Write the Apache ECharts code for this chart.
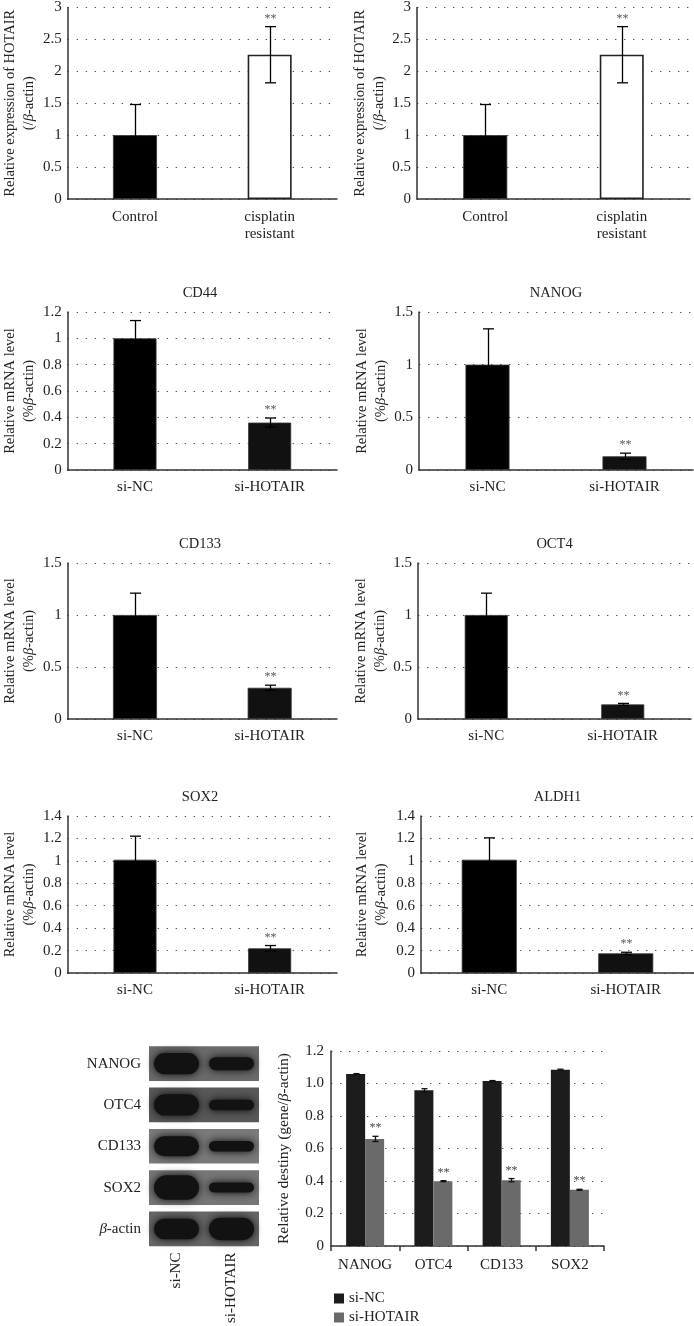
<!DOCTYPE html>
<html><head><meta charset="utf-8">
<script src="https://cdn.jsdelivr.net/npm/echarts@6/dist/echarts.min.js"></script>
<style>html,body{margin:0;padding:0;background:#fff}#c{width:694px;height:1326px}</style>
</head><body><div id="c"></div>
<script>
// ================= DATA =================
const hotairCategories = ['Control', 'cisplatin\nresistant'];
const hotairMeansA = [1.0, 2.26];
const hotairErrA = [0.48, 0.44];
const hotairMeansB = [1.0, 2.26];
const hotairErrB = [0.48, 0.44];
const hotairTicks = [0, 0.5, 1, 1.5, 2, 2.5, 3];

const mrnaCategories = ['si-NC', 'si-HOTAIR'];
const cd44Means = [1.0, 0.36];   const cd44Err = [0.135, 0.035];
const nanogMeans = [1.0, 0.13];  const nanogErr = [0.34, 0.03];
const cd133Means = [1.0, 0.30];  const cd133Err = [0.21, 0.025];
const oct4Means = [1.0, 0.14];   const oct4Err = [0.21, 0.01];
const sox2Means = [1.01, 0.22];  const sox2Err = [0.21, 0.025];
const aldh1Means = [1.01, 0.175]; const aldh1Err = [0.195, 0.01];
const ticks12 = [0, 0.2, 0.4, 0.6, 0.8, 1, 1.2];
const ticks15 = [0, 0.5, 1, 1.5];
const ticks14 = [0, 0.2, 0.4, 0.6, 0.8, 1, 1.2, 1.4];
const significant = [false, true];

const blotRows = ['NANOG', 'OTC4', 'CD133', 'SOX2', 'β-actin'];
const blotLanes = ['si-NC', 'si-HOTAIR'];
const blotIntensityNC = [0.85, 0.85, 0.8, 0.98, 0.82];
const blotIntensityHOTAIR = [0.52, 0.42, 0.42, 0.4, 0.9];

const densityCategories = ['NANOG', 'OTC4', 'CD133', 'SOX2'];
const densitySeriesNames = ['si-NC', 'si-HOTAIR'];
const densityNC = [1.058, 0.958, 1.015, 1.085];
const densityNCErr = [0.003, 0.01, 0.003, 0.003];
const densityHOTAIR = [0.659, 0.399, 0.405, 0.346];
const densityHOTAIRErr = [0.016, 0.003, 0.01, 0.003];
const densityTicks = [0, 0.2, 0.4, 0.6, 0.8, 1.0, 1.2];

// ================= STYLE / LAYOUT =================
const FONT = '"Liberation Serif", "DejaVu Serif", serif';
const TXT = '#222';
const AXIS = '#333';
const FS = 15;
const STRIP_COLORS = ['#6b6b6b', '#585858', '#7a7a7a', '#767676', '#676767'];

const hotairName = 'Relative expression of HOTAIR\n(/{i|β}-actin)';
const mrnaName = 'Relative mRNA level\n(%{i|β}-actin)';

const panels = [
  {cats: hotairCategories, means: hotairMeansA, errs: hotairErrA, ticks: hotairTicks, name: hotairName, title: null,
   grid: {left: 64, top: 4, width: 273, height: 195}, barW: 44, gap: 22, white: true, labelMargin: 10},
  {cats: hotairCategories, means: hotairMeansB, errs: hotairErrB, ticks: hotairTicks, name: hotairName, title: null,
   grid: {left: 417, top: 4, width: 273, height: 195}, barW: 44, gap: 27, white: true, labelMargin: 10},
  {cats: mrnaCategories, means: cd44Means, errs: cd44Err, ticks: ticks12, name: mrnaName, title: 'CD44',
   grid: {left: 63, top: 312, width: 274, height: 158}, barW: 43, gap: 20},
  {cats: mrnaCategories, means: nanogMeans, errs: nanogErr, ticks: ticks15, name: mrnaName, title: 'NANOG',
   grid: {left: 419, top: 312, width: 274, height: 158}, barW: 44, gap: 28},
  {cats: mrnaCategories, means: cd133Means, errs: cd133Err, ticks: ticks15, name: mrnaName, title: 'CD133',
   grid: {left: 63, top: 563, width: 274, height: 156}, barW: 44, gap: 20},
  {cats: mrnaCategories, means: oct4Means, errs: oct4Err, ticks: ticks15, name: mrnaName, title: 'OCT4',
   grid: {left: 418, top: 563, width: 273, height: 156}, barW: 43, gap: 28},
  {cats: mrnaCategories, means: sox2Means, errs: sox2Err, ticks: ticks14, name: mrnaName, title: 'SOX2',
   grid: {left: 63, top: 816, width: 274, height: 157}, barW: 43, gap: 27},
  {cats: mrnaCategories, means: aldh1Means, errs: aldh1Err, ticks: ticks14, name: mrnaName, title: 'ALDH1',
   grid: {left: 421, top: 816, width: 273, height: 157}, barW: 55, gap: 30}
];

function errRender(capW, offset, starColor, stroke) {
  return function (params, api) {
    const x = api.value(0), m = api.value(1), e = api.value(2), star = api.value(3);
    const top = api.coord([x, m + e]);
    const bot = api.coord([x, m - e]);
    const cx = Math.round(top[0] + offset) + 0.5;
    const st = {stroke: stroke, lineWidth: 1.3};
    const children = [
      {type: 'line', shape: {x1: cx, y1: top[1], x2: cx, y2: bot[1]}, style: st},
      {type: 'line', shape: {x1: cx - capW / 2, y1: top[1], x2: cx + capW / 2, y2: top[1]}, style: st},
      {type: 'line', shape: {x1: cx - capW / 2, y1: bot[1], x2: cx + capW / 2, y2: bot[1]}, style: st}
    ];
    if (star) {
      children.push({type: 'text', x: cx, y: top[1] - 2,
        style: {text: '**', align: 'center', verticalAlign: 'bottom', textAlign: 'center', textVerticalAlign: 'bottom',
          font: '12px ' + FONT, fill: starColor}});
    }
    return {type: 'group', children: children};
  };
}

const grids = [], xAxes = [], yAxes = [], series = [], graphics = [];
const dottedSplit = {show: true, lineStyle: {type: [1.4, 7.6], color: '#555', width: 1.2}};
function nameStyle(fs) {
  return {fontFamily: FONT, fontSize: fs, color: TXT, lineHeight: 19,
    rich: {i: {fontStyle: 'italic', fontFamily: FONT, fontSize: fs, color: TXT}}};
}

panels.forEach(function (p, idx) {
  grids.push(Object.assign({containLabel: false}, p.grid));
  xAxes.push({type: 'category', gridIndex: idx, data: p.cats, boundaryGap: true,
    axisLine: {show: true, lineStyle: {color: AXIS, width: 1.5}}, axisTick: {show: false},
    axisLabel: {interval: 0, fontFamily: FONT, fontSize: FS, color: TXT, margin: p.labelMargin || 9, lineHeight: 17}});
  const t = p.ticks;
  yAxes.push({type: 'value', gridIndex: idx, min: t[0], max: t[t.length - 1], interval: t[1] - t[0],
    axisLine: {show: true, lineStyle: {color: AXIS, width: 1.5}}, axisTick: {show: false},
    splitLine: dottedSplit,
    axisLabel: {fontFamily: FONT, fontSize: FS, color: TXT, margin: 6},
    name: p.name, nameLocation: 'middle', nameGap: p.gap, nameTextStyle: nameStyle(14.5)});
  series.push({type: 'bar', xAxisIndex: idx, yAxisIndex: idx, barWidth: p.barW,
    data: p.means.map(function (v, i) {
      const isWhite = p.white && i === 1;
      return {value: v, itemStyle: {color: isWhite ? '#fff' : (i === 0 ? '#000' : '#111'),
        borderColor: isWhite ? '#222' : '#333', borderWidth: isWhite ? 1.6 : 0.8}};
    })});
  series.push({type: 'custom', xAxisIndex: idx, yAxisIndex: idx, z: 5,
    encode: {x: 0, y: 1},
    renderItem: errRender(11, 0, '#555', '#000'),
    data: p.means.map(function (v, i) { return [i, v, p.errs[i], significant[i] ? 1 : 0]; })});
  if (p.title) {
    graphics.push({type: 'text', x: p.grid.left + p.grid.width / 2, y: p.grid.top - 19,
      style: {text: p.title, align: 'center', verticalAlign: 'middle', textAlign: 'center', textVerticalAlign: 'middle',
        font: '14.5px ' + FONT, fill: TXT}});
  }
});

// ---- Western blot (custom series on category scales) ----
const blotIdx = grids.length;
grids.push({left: 149, top: 1043, width: 110, height: 213});
xAxes.push({type: 'category', gridIndex: blotIdx, data: blotLanes, boundaryGap: true,
  axisLine: {show: false}, axisTick: {show: false}, splitLine: {show: false},
  axisLabel: {interval: 0, rotate: 90, fontFamily: FONT, fontSize: FS, color: TXT, margin: 3}});
yAxes.push({type: 'category', gridIndex: blotIdx, data: blotRows, inverse: true, boundaryGap: true,
  axisLine: {show: false}, axisTick: {show: false}, splitLine: {show: false},
  axisLabel: {interval: 0, fontFamily: FONT, fontSize: FS, color: TXT, margin: 8,
    formatter: function (v) { return v === 'β-actin' ? '{i|β}-actin' : v; },
    rich: {i: {fontStyle: 'italic', fontFamily: FONT, fontSize: FS, color: TXT}}}});
series.push({type: 'custom', xAxisIndex: blotIdx, yAxisIndex: blotIdx, encode: {x: 0, y: 1},
  data: blotRows.map(function (r, i) { return [0, i]; }),
  renderItem: function (params, api) {
    const row = api.value(1);
    const cs = params.coordSys;
    const cy = api.coord([0, row])[1];
    const h = api.size([0, 1])[1] * 0.84;
    return {type: 'rect', shape: {x: cs.x, y: cy - h / 2, width: cs.width, height: h},
      style: {fill: STRIP_COLORS[row]}};
  }});
const bandData = [];
blotRows.forEach(function (r, i) {
  bandData.push([0, i, blotIntensityNC[i]]);
  bandData.push([1, i, blotIntensityHOTAIR[i]]);
});
series.push({type: 'custom', xAxisIndex: blotIdx, yAxisIndex: blotIdx, encode: {x: 0, y: 1}, z: 3,
  data: bandData,
  renderItem: function (params, api) {
    const c = api.coord([api.value(0), api.value(1)]);
    const sz = api.size([1, 1]);
    const w = sz[0] * 0.82;
    const h = sz[1] * 0.84 * 0.72 * api.value(2);
    return {type: 'rect', shape: {x: c[0] - w / 2, y: c[1] - h / 2, width: w, height: h, r: h / 2},
      style: {fill: '#121212', shadowBlur: 9, shadowColor: 'rgba(8,8,8,1)'}};
  }});

// ---- Densitometry bar chart ----
const dIdx = grids.length;
grids.push({left: 331, top: 1051, width: 273, height: 195});
xAxes.push({type: 'category', gridIndex: dIdx, data: densityCategories, boundaryGap: true,
  axisLine: {show: true, lineStyle: {color: AXIS, width: 1.5}},
  axisTick: {show: true, interval: 0, length: 5, lineStyle: {color: AXIS, width: 1.5}},
  axisLabel: {interval: 0, fontFamily: FONT, fontSize: FS, color: TXT, margin: 12}});
yAxes.push({type: 'value', gridIndex: dIdx, min: densityTicks[0], max: densityTicks[densityTicks.length - 1],
  interval: densityTicks[1] - densityTicks[0],
  axisLine: {show: true, lineStyle: {color: AXIS, width: 1.5}}, axisTick: {show: false},
  splitLine: dottedSplit,
  axisLabel: {fontFamily: FONT, fontSize: FS, color: TXT, margin: 7,
    formatter: function (v) { return v === 0 ? '0' : v.toFixed(1); }},
  name: 'Relative destiny (gene/{i|β}-actin)', nameLocation: 'middle', nameGap: 38, nameTextStyle: nameStyle(15.5)});
const DCOL = ['#1c1c1c', '#6a6a6b'];
series.push({type: 'bar', name: densitySeriesNames[0], xAxisIndex: dIdx, yAxisIndex: dIdx, barWidth: 19, barGap: '0%',
  itemStyle: {color: DCOL[0]}, data: densityNC});
series.push({type: 'bar', name: densitySeriesNames[1], xAxisIndex: dIdx, yAxisIndex: dIdx, barWidth: 19, barGap: '0%',
  itemStyle: {color: DCOL[1]}, data: densityHOTAIR});
series.push({type: 'custom', xAxisIndex: dIdx, yAxisIndex: dIdx, z: 5, encode: {x: 0, y: 1},
  renderItem: errRender(6, -9.5, '#444', '#111'),
  data: densityNC.map(function (v, i) { return [i, v, densityNCErr[i], 0]; })});
series.push({type: 'custom', xAxisIndex: dIdx, yAxisIndex: dIdx, z: 5, encode: {x: 0, y: 1},
  renderItem: errRender(6, 9.5, '#444', '#111'),
  data: densityHOTAIR.map(function (v, i) { return [i, v, densityHOTAIRErr[i], 1]; })});

const chart = echarts.init(document.getElementById('c'), null, {renderer: 'canvas'});
chart.setOption({
  animation: false,
  backgroundColor: '#fff',
  textStyle: {fontFamily: FONT},
  grid: grids, xAxis: xAxes, yAxis: yAxes, series: series,
  legend: {data: densitySeriesNames, orient: 'vertical', left: 334, top: 1291, itemWidth: 10, itemHeight: 10,
    itemGap: 4, icon: 'rect', textStyle: {fontFamily: FONT, fontSize: FS, color: TXT}, padding: 0},
  graphic: graphics
});
</script></body></html>
